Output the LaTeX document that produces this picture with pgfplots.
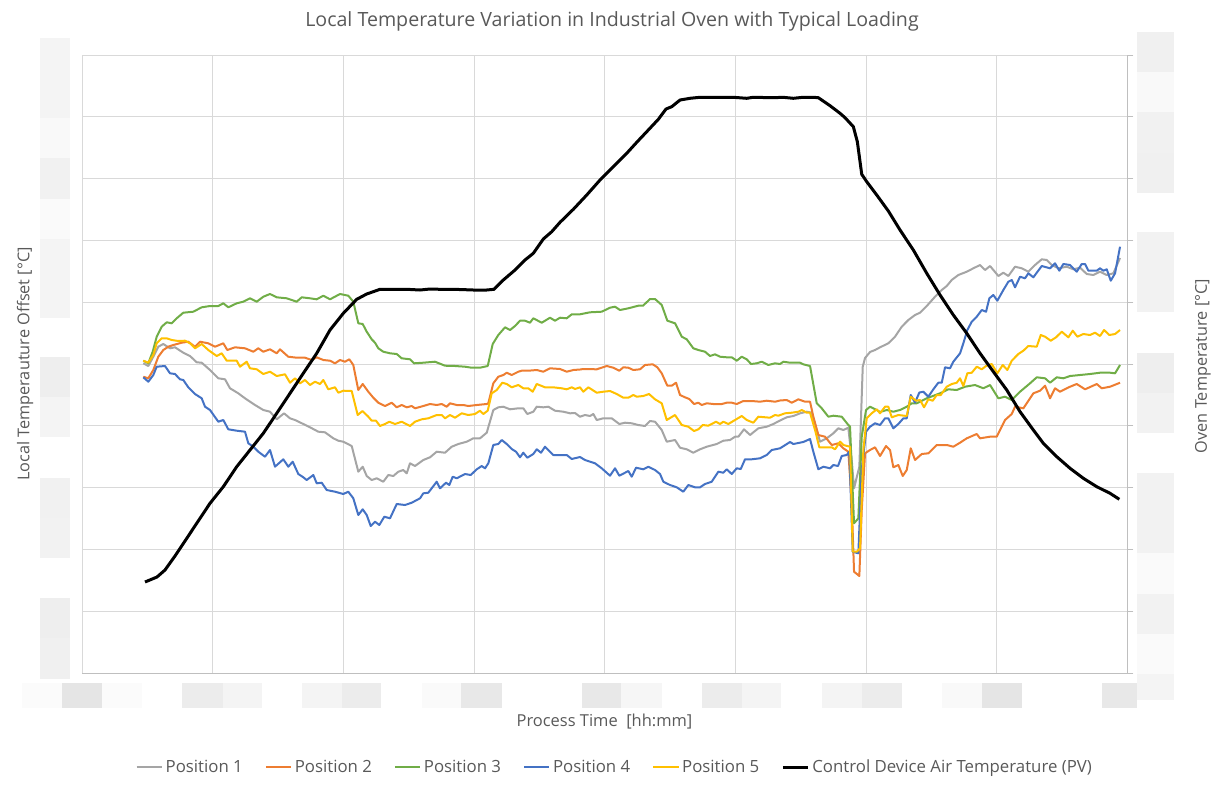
\documentclass[border=0pt]{standalone}
\usepackage{pgfplots}
\usepackage{pgfplotstable}
\pgfplotsset{compat=1.18}
\usepackage{fontspec}
\setmainfont{Open Sans}
\definecolor{txt}{HTML}{595959}
\definecolor{gridc}{HTML}{D9D9D9}
\definecolor{axc}{HTML}{BFBFBF}
\definecolor{pA}{HTML}{A5A5A5}
\definecolor{pB}{HTML}{ED7D31}
\definecolor{pC}{HTML}{70AD47}
\definecolor{pD}{HTML}{4472C4}
\definecolor{pE}{HTML}{FFC000}

% values read in picture units (x: pixel column, y: pixel row); filters map them to grid units
\pgfplotstableread{
x y
143.3 363.3
148.3 366
153.3 356.7
158.3 346.7
163.3 344
170 348.3
175 347.3
183.3 352.7
190 356
196.7 362.3
201.7 362.7
210 370
218.3 378.3
225 379.3
230 388.3
238.3 393.3
245 398.3
255 405
263.3 410
270 411.7
276.7 419.3
284 413.3
290 418.3
295 420
303.3 424
310 427.3
318.3 431.7
325 432.3
333.3 438.3
338.3 440.7
343.3 441.7
351.7 446
358.3 471.7
362.7 466.7
366.7 476
371.7 480
376.7 478.3
383.3 481.7
388.3 475
393.3 476
398.3 471.7
403.3 470
406.7 473.3
410 463.3
415 466
423.3 460
430 457.3
436.7 451.7
445 452.7
451.7 446.7
458.3 444
466.7 441.7
473.3 438.3
480 438.3
486.7 432.7
493.3 410
498.3 407.3
503.3 406.7
510 409.3
518.3 408.3
523.3 408.3
527.3 414
533.3 411.7
536.7 406.7
543.3 407.3
548.3 406.7
555 410.7
563.3 411.7
570 413.3
575 413
580 416.7
585 415
590 416
593.3 414
596.7 420
603.3 418.3
611.7 418.3
619.3 424
625 422.7
631.7 423.3
638.3 425
645 426
650 421
655 421.7
661.7 430
666.7 441.7
675 440
680 447.7
686.7 449.3
693.3 452.7
700 449.3
706.7 446.7
716.7 444
723.3 440.7
730 440
735 436.7
738.3 436.7
744 429.3
750 435
758.3 428.3
766.7 426.7
773.3 424
780 420.5
786.7 417.3
793.3 416
800 413.3
806.7 411.7
811.7 412.7
816.7 430
820 441.7
826.7 438.3
833.3 433.3
838.3 428.3
843.3 430
848.3 427.7
851.7 460
854 488.3
859.3 466.7
862.7 366.7
865 358
870 352
875 350
880 347.3
888.3 343.3
895 336.7
901.7 326.7
908.3 320
915 315
920 312.7
926.7 306
935 296.7
941.7 290
946.7 286
951.7 280
958.3 275
966.7 271.7
973.3 268.3
980 265
985 270
990 266
998.3 276
1003.3 272.7
1008.3 276
1015 266.7
1021.7 268.3
1028.3 271.7
1035 265
1041.7 259.3
1046.7 260
1051.7 265
1058.3 268.3
1066.7 266.7
1073.3 269.3
1080 267.7
1086.7 274
1093.3 275
1100 271.7
1106.7 275
1113.3 273.3
1120 258
}\tA

\pgfplotstableread{
x y
143.3 376.7
148.3 378.3
153.3 370
158.3 356.7
163.3 350
168.3 346.7
173.3 345
181.7 342.7
188.3 341.7
195 346.7
200 341.7
208.3 343.3
215 346.7
223.3 343.3
227.3 350
235 347.3
245 348.3
253.3 351.7
258.3 348.3
263.3 351.7
270 349.3
276.7 353.3
280 349.3
288.3 356.7
296.7 357.7
305 357.7
311.7 360
316.7 357.3
323.3 360
330 360.7
335 363.3
340 360
345 361.7
349.3 359.3
353.3 365
358.3 390
362.7 384
368.3 391.7
373.3 397.7
378.3 402.7
385 406
391.7 402.7
396.7 407.3
401.7 405
406.7 407.3
411.7 406
415 408.3
423.3 406
430 404
436.7 405
441.7 404
446.7 406.7
450 403.3
456.7 405
463.3 405
468.3 406
476.7 405
486.7 404
488.3 403.3
493.3 383.3
498.3 376.7
503.3 375
506.7 372.7
511.7 375
518.3 371.7
521.7 370.7
528.3 370.7
536.7 370
543.3 371.7
550 368.3
560 369
566.7 371.7
573.3 370
580 369.5
583.3 369
596.7 369.3
606.7 366
613.3 367.7
619.3 370.7
623.3 367.3
628.3 367.7
633.3 370
640 369.3
645 365
652.7 364.3
657.3 367.3
661.7 373.3
667.3 385.7
671.7 385.7
676 382.7
680 395
685 397.3
689.3 399
694 404
698.3 402.7
701.7 405
706.7 403.3
713.3 404
721.7 404
726.7 402.7
731.7 402.7
736.7 404
743.3 401
751.7 401
760 401.7
766.7 400.7
775 401.7
780 400.5
786.7 400
791.7 402.7
798.3 399.3
805 401.7
810 401.7
813.3 416.7
818.3 435
825 436.7
831.7 445
838.3 443.3
843.3 448.3
848.3 451.7
851.7 503.3
854 571.7
859.3 576
861.7 510
865 453.3
870 450
875 447.3
880 456
886 446
890 450
893.3 467.3
898.3 465
902.7 476
906.7 470
910.7 448.3
915 460
921.7 454
928.3 453.3
936.7 445
946.7 445
953.3 446.7
960 442.7
966.7 438.3
976.7 434
980 438.3
990 436.7
996.7 436.7
1005 420
1011.7 414
1015 406.7
1023.3 408.3
1033.3 393.3
1040 390.7
1045 385.7
1050 398.3
1055 388.3
1060 391.7
1070 386.7
1076.7 384
1085 389.3
1096.7 384
1101.7 388.3
1110 386.7
1120 382.7
}\tB

\pgfplotstableread{
x y
143.3 360.7
148.3 363.3
152.7 351.7
156.7 336.7
161.7 326.7
166.7 322.3
171.7 323.3
176.7 318.3
183.3 312.7
193.3 311.7
201.7 307.3
210 306
218.3 306
223.3 303.3
228.3 307.3
236.7 303.3
243.3 301.7
250 298.3
256.7 301.7
263.3 296.7
270 294
276.7 297.3
286.7 298.3
296.7 301.7
301.7 297.3
310 298.3
316.7 299.3
323.3 295.7
330 299.3
340 294
348.3 295.7
353.3 301.7
358.3 323.3
362.7 324
366.7 331.7
371.7 339.3
375 342.7
378.3 348.3
383.3 351.7
390 353.3
396.7 354
401.7 358.3
410 359.3
414 363.3
423.3 362.7
435 361.7
445 365.7
455 366
465 366.7
471.7 367.7
480 367.7
487.7 366
492.7 344
498.3 335
505 327.3
510 330
515 326
520 320.7
525 320.7
530 322.7
533.3 318.3
541.7 322.7
550 317.7
555 320.7
560 317.7
566.7 318.3
571.7 314.3
580 314.3
590 312.3
601.7 311.7
610 307.7
615 306.7
620 310
628.3 308.3
638.3 305.7
643 305.7
650 299
655 299
661.7 305
667.3 320.7
675 323.3
681.7 336.7
686.7 339.3
693.3 348.3
698.3 350
705 351.7
710 356
715 354.3
720 356.7
726.7 357.3
731.7 357.3
736.7 360.7
741.7 356.7
746.7 359.3
751 364
756.7 363.3
761.7 361.7
768.3 365
775 363.3
780 364
783.3 361.7
790 362.7
800 362.7
803.3 364.3
810 366
816.7 403.3
821.7 408.3
828.3 416.7
833.3 415.7
841.7 416.7
848.3 425
850 426.7
854 523.3
858.3 518.3
861.7 436.7
866 410
870 406.7
876.7 410
880 412
886.7 410
893.3 411.7
900 410
906.7 406.7
911.7 403.3
916.7 403.3
920 401.7
926.7 398.3
940 393.3
948.3 389.3
956.7 390
965 386.7
975 385
983.3 388.3
990 385
998.3 398.3
1005 396.7
1011.7 400
1020 391.7
1030 383.3
1036.7 377.3
1045 378.3
1050 382.7
1056.7 377.3
1063.3 378.3
1070 376
1080 375
1090 374
1100 372.7
1110 372.7
1115 373.3
1120 365
}\tC

\pgfplotstableread{
x y
143.3 377.3
148.3 381.7
153.3 375
156.7 366.7
165 366
170 373.3
175 374
180 379.3
183.3 380
188.3 387.3
195 394
201.7 398.3
205 406.7
210 410
218.3 421.7
223.3 420
228.3 429.3
236.7 430.7
245 431.7
248.3 443.3
253.3 446.7
258.3 451.7
265 456.7
270 450
275 466.7
283.3 459.3
288.3 466.7
292.7 461.7
298.3 474
303.3 477.3
306.7 480
313.3 475
316.7 483.3
321.7 482.7
326.7 490
335 491.7
343.3 494
348.3 491.7
353.3 498.3
358.3 515
362.7 509.3
366.7 515
370.7 526
375 521.7
379.3 525
384.3 516.7
390 518.3
396.7 504
405 505
411.7 502.7
420 498.3
423.3 493.3
428.3 492.7
436.7 481.7
440 488.3
446 482.7
449.3 485
452.7 476.7
456.7 478.3
465 474
470.7 475
476.7 469.3
481.7 466
485 468.3
488.3 463.3
493.3 445
498.3 444
501.7 440
506.7 444
511.7 449
516 451.7
520 457.3
523.3 452.7
527.3 457.7
533.3 454
536.7 449.3
541 452.7
545 446.7
553.3 455
560 455
566.7 455
571.7 459
580 457
585 460
595 463.3
601.7 468.3
610 475.7
615 468.3
619.3 475.7
628.3 471
631.7 476.7
636 467.7
643.3 469.3
648.3 466.7
655 470
660 474
663.3 481.7
670 485
676.7 487.3
683.3 491.7
688.3 485
695 487.3
700 487.3
705 484
711.7 481.7
718.3 471.7
723.3 472.7
726.7 469.3
731.7 474
736.7 468.3
740.7 469
745 459.3
751.7 459.3
760 458.3
766.7 455
771.7 450
780 448.3
790 442
793.3 444
803.3 442
810 439
813.3 451.7
818.3 469.3
823.3 466.7
830 468.3
833.3 465
838 466
841.7 456
846.7 455
849.3 451.7
852.7 551.7
858.3 553.3
861.7 470
866 431.7
870 426.7
875 423.3
880 425
885 418.3
888.3 418.3
893.3 428.3
898.3 424
903.3 418.3
906.7 418.3
910.7 395
915 402.5
919.3 392.5
923.3 391.7
928.3 396.7
933.3 389.3
938.3 382.7
941.7 382.7
945 367.3
950 368.3
953.3 361.7
960 353.3
963.3 343.3
967.3 330
971.7 321.7
976.7 316.7
981.7 310
986 311.7
989.3 298.3
993.3 295
997.3 300.7
1003.3 290
1008.3 281.7
1011.7 280
1015 287.3
1020 276.7
1025 278.3
1028.3 273.3
1033.3 277.3
1041.7 266
1050 268.3
1055 263.3
1059.3 270.7
1063.3 264
1070 265
1076.7 271.7
1081.7 264
1085 264
1088.3 270.7
1096.7 270.7
1100 268.3
1103.3 270.7
1106.7 269.3
1110.7 280.7
1115 273.3
1120 246.7
}\tD

\pgfplotstableread{
x y
143.3 360.7
148.3 362.7
153.3 355
156.7 343.3
161.7 338.3
166.7 338.3
171.7 340
178.3 341
185 340.7
190 343.3
195 348.3
201.7 344
208.3 350
216.7 356
221.7 353.3
226.7 360.7
236.7 360.7
240 366.7
246.7 361.7
250 368.3
256.7 369.3
263.3 374
270 371.7
276.7 376
285 374.3
290 382.7
295 378.3
300 383.3
305 380
310 385
315 381.7
320 384
323.3 380
328.3 389.3
335 387.3
338.3 392.7
343.3 390.7
351.7 391
357.7 415
362.5 411
368.3 416.7
371.7 420.7
376 420.7
380 426
385 424
389.3 421.7
395 424
401.7 421.7
410 426
415 421.7
421.7 419.3
428.3 418.3
436.7 415
441.7 415
445 418.3
450 415
455 417.7
461.7 413.3
468.3 415
475 414
480 410.7
483.3 414
487.7 410.7
491.7 393.3
496.7 390
502.3 382.7
506.7 384
511.7 387.3
518.3 385
523.3 388.3
528.3 388.3
532.7 391.7
536.7 384
545 387.3
553.3 387.3
561.7 388.3
566.7 389.3
571.7 387.3
575 389
580 387.3
583.3 391.7
588.3 387.3
596.7 392.7
603.3 391.7
610 391
616.7 394
623.3 397.7
628.3 397.7
633.3 395
636.7 396.7
643.3 396
649 394
655 399.3
661.7 403.3
666.7 420
675 415
681.7 425
688.3 426.7
694 431
698.3 429.3
702.7 425
708.3 425.7
716 421.7
720 424
723.3 421.7
728.3 424
733.3 421
741.7 416
746.7 420
753.3 422.7
758.3 416.7
770 417.7
775 415
778.3 415.7
785 413.3
791.7 412.7
798.3 411.7
801.7 410
806.7 412.7
810 412.7
815 430
819.3 447.3
825 447.3
831.7 447.3
835 449.3
840 441.7
843.3 445
850 446.7
852.7 551.7
856.7 551.7
860 548.3
863.3 450
866.7 418.3
871.7 413.3
876.7 409.3
880 413.3
885 406.7
888.3 406.7
891.7 417.3
898.3 415
906.7 416
910.7 396.7
916 400.7
920 400
924 407.3
928.3 399.3
932.7 400.7
936.7 395
940.7 395
946.7 386.7
951.7 384
956.7 382.7
960 378.3
963.3 386
967.3 373.3
971.7 372.7
976.7 366.7
981.7 369.3
986 366
991.7 364
997.3 373.3
1002.7 365
1007.3 370
1011.7 360.7
1018.3 354
1023.3 350.7
1028.3 346
1036.7 346.7
1040.7 335
1045 336.7
1050.7 340.7
1056 337.3
1061.7 331.7
1068.3 337.3
1072.7 330.7
1077.3 336.7
1083.3 334
1090 335
1095 332.7
1100 336
1104 330
1109.3 335
1115 334
1120 330
}\tE

\pgfplotstableread{
x y
145 582
157 577
165 570
175 556
185 541
196.7 523.3
210 503.3
223.3 486.7
236.7 466.7
250 450
263.3 433.3
276.7 413.3
290 393.3
303.3 373.3
316.7 353.3
330 330
343.3 313.3
356.7 299.3
366.7 294
380 289.3
406.7 289.3
420 290
430 289
440 289.3
460 289.5
473.3 290
486.7 290
494 289.3
503.3 280
515 270
525 260
533.3 253.3
543.3 239
551.7 231.7
560 222.3
573.3 209.3
586.7 195
600 180
613.3 166.7
626.7 153.3
636.7 142.3
648.3 130
658.3 119.3
666 109
671.7 106.7
680 100
690 98.3
700 97.3
733.3 97.3
746.7 98.3
753 97.3
773.3 97.7
783 97.3
793.3 98.3
803 97.3
813.3 97.3
818.3 97.7
830 105.7
840 113.3
845 117.7
853.3 126.7
857.3 141.7
861.7 174.3
866.7 181.7
876.7 195
888.3 211
900 230
913.3 250
926.7 273.3
940 295
953.3 315
966.7 333.3
980 353.3
993.3 371.7
1006.7 390
1020 411.7
1033.3 430
1043.3 443.3
1056.7 456.7
1070 468.3
1083.3 478.3
1096.7 486.7
1110 493.3
1119.3 499.3
}\tPV

\begin{document}
\begin{tikzpicture}
\begin{scope}[x=0.75pt,y=-0.75pt]
\path[use as bounding box] (0,0) rectangle (1225,789);
% blurred tick-label placeholders
\foreach \a/\b/\g in {38/118/0.955,118/158/0.975,158/199/0.945,199/239/0.98,239/279/0.955,279/318/0.955,357/397/0.935,397/437/0.955,478/518/0.945,518/558/0.95,598/638/0.935,638/679/0.94}
  {\definecolor{bx}{gray}{\g}\fill[bx] (40,\a) rectangle (70,\b);}
\foreach \a/\b/\g in {32/72/0.94,72/112/0.975,112/153/0.945,153/193/0.94,232/312/0.95,353/393/0.935,393/433/0.95,473/553/0.95,553/594/0.98,594/634/0.95,634/674/0.98,674/700/0.955}
  {\definecolor{bx}{gray}{\g}\fill[bx] (1137,\a) rectangle (1174,\b);}
\foreach \a/\b/\g in {22/62/0.985,62/102/0.9,102/142/0.985,182/223/0.925,223/262/0.955,302/342/0.955,342/381/0.925,422/461/0.98,461/502/0.91,582/621/0.91,621/662/0.965,702/742/0.925,742/781/0.955,822/862/0.955,862/902/0.925,942/982/0.975,982/1022/0.9,1102/1137/0.91}
  {\definecolor{bx}{gray}{\g}\fill[bx] (\a,683) rectangle (\b,708);}
% titles
\node[text=txt,font=\fontsize{14.7}{17}\selectfont] at (612,21) {Local Temperature Variation in Industrial Oven with Typical Loading};
\node[text=txt,font=\fontsize{12.35}{14}\selectfont] at (604.5,722) {Process Time\ \ [hh:mm]};
\node[text=txt,font=\fontsize{12.2}{14}\selectfont,rotate=90] at (25,364) {Local Temperauture Offset [°C]};
\node[text=txt,font=\fontsize{12.2}{14}\selectfont,rotate=90] at (1203,366) {Oven Temperature [°C]};
\end{scope}
\begin{axis}[
  at={(61.5pt,-504.9pt)}, anchor=south west,
  width=784pt, height=463.65pt, scale only axis,
  xmin=0, xmax=8, ymin=0, ymax=10,
  x filter/.expression={(x-82)/130.66},
  y filter/.expression={(673.2-y)/61.82},
  xtick={0,...,8}, ytick={0,...,10},
  xticklabels={}, yticklabels={},
  grid=major, major grid style={gridc, line width=0.75pt},
  axis x line*=bottom, axis y line*=right,
  x axis line style={-, draw=axc, line width=0.75pt},
  y axis line style={-, draw=axc, line width=0.75pt},
  xtick style={draw=none},
  ytick style={draw=axc, line width=0.75pt},
  tick align=outside, major tick length=4.5pt,
  clip=false,
  legend columns=6,
  legend style={at={(0.51,-0.152)}, anchor=center, draw=none, fill=none,
    text=txt, font=\fontsize{12.6}{14}\selectfont,
    /tikz/every even column/.append style={column sep=14.5pt}},
  legend image code/.code={\draw[#1] (0pt,0pt) -- (19pt,0pt);},
  every axis plot/.append style={no markers, line join=round},
]
\addplot[pA, line width=1.5pt] table[x=x,y=y]{\tA};
\addlegendentry{Position 1}
\addplot[pB, line width=1.5pt] table[x=x,y=y]{\tB};
\addlegendentry{Position 2}
\addplot[pC, line width=1.5pt] table[x=x,y=y]{\tC};
\addlegendentry{Position 3}
\addplot[pD, line width=1.5pt] table[x=x,y=y]{\tD};
\addlegendentry{Position 4}
\addplot[pE, line width=1.5pt] table[x=x,y=y]{\tE};
\addlegendentry{Position 5}
\addplot[black, line width=2.25pt] table[x=x,y=y]{\tPV};
\addlegendentry{Control Device Air Temperature (PV)}
\end{axis}
\end{tikzpicture}
\end{document}
